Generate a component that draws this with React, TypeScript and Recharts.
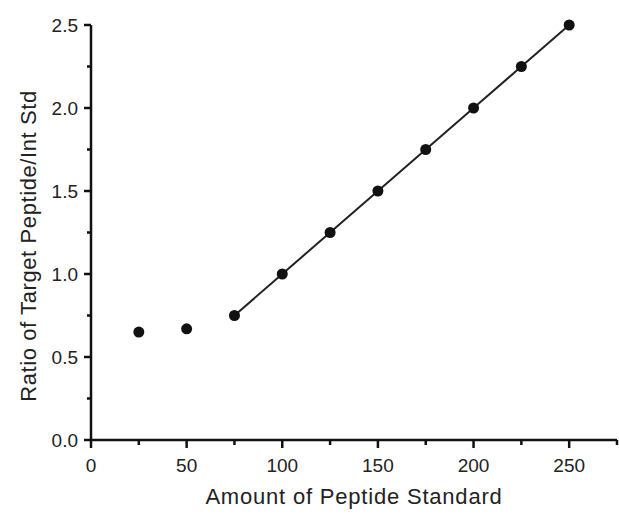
import { ComposedChart, Line, XAxis, YAxis } from 'recharts';

const amounts = [25, 50, 75, 100, 125, 150, 175, 200, 225, 250];
const ratios = [0.65, 0.67, 0.75, 1.0, 1.25, 1.5, 1.75, 2.0, 2.25, 2.5];
// linear fit only drawn over the linear range (75 and up)
const fitFrom = 75;

const xTicks = [0, 25, 50, 75, 100, 125, 150, 175, 200, 225, 250, 275];
const xLabeled = [0, 50, 100, 150, 200, 250];
const yTicks = [0, 0.25, 0.5, 0.75, 1, 1.25, 1.5, 1.75, 2, 2.25, 2.5];
const yLabeled = [0, 0.5, 1, 1.5, 2, 2.5];

const data = amounts.map((a, i) => ({
  amount: a,
  ratio: ratios[i],
  fit: a >= fitFrom ? ratios[i] : null,
}));

const FONT = '"Liberation Sans", Arial, sans-serif';
const INK = '#111';
const TEXT = '#222';

function XTick(props: any) {
  const { x, y, payload } = props;
  const major = xLabeled.includes(payload.value);
  return (
    <g>
      <line x1={x} y1={y} x2={x} y2={y + (major ? 8 : 5)} stroke={INK} strokeWidth={2.5} />
      {major && (
        <text x={x} y={y + 32} textAnchor="middle" fontSize={19} fill={TEXT} fontFamily={FONT}>
          {payload.value}
        </text>
      )}
    </g>
  );
}

function YTick(props: any) {
  const { x, y, payload } = props;
  const major = yLabeled.includes(payload.value);
  return (
    <g>
      <line x1={x} y1={y} x2={x - (major ? 7 : 4)} y2={y} stroke={INK} strokeWidth={2.5} />
      {major && (
        <text x={x - 13} y={y} dy="0.35em" textAnchor="end" fontSize={19} fill={TEXT} fontFamily={FONT}>
          {payload.value.toFixed(1)}
        </text>
      )}
    </g>
  );
}

export default function App() {
  return (
    <div style={{ position: 'absolute', left: 0, top: 0, width: 619, height: 515, background: '#fff' }}>
      <ComposedChart
        width={619}
        height={515}
        data={data}
        margin={{ top: 25, right: 2, bottom: 0, left: 0 }}
      >
        <XAxis
          dataKey="amount"
          type="number"
          domain={[0, 275]}
          ticks={xTicks}
          interval={0}
          height={75}
          tickSize={0}
          tickMargin={0}
          tickLine={false}
          tick={<XTick />}
          axisLine={{ stroke: INK, strokeWidth: 2.5 }}
          label={{
            value: 'Amount of Peptide Standard',
            position: 'insideBottom',
            offset: 11,
            fontSize: 22,
            fill: TEXT,
            fontFamily: FONT,
            letterSpacing: 0.8,
          }}
        />
        <YAxis
          type="number"
          domain={[0, 2.5]}
          ticks={yTicks}
          interval={0}
          width={91}
          tickSize={0}
          tickMargin={0}
          tickLine={false}
          tick={<YTick />}
          axisLine={{ stroke: INK, strokeWidth: 2.5 }}
          label={{
            content: () => (
              <text
                transform="translate(28,246) rotate(-90)"
                textAnchor="middle"
                dy="0.36em"
                fontSize={22}
                fill={TEXT}
                fontFamily={FONT}
                letterSpacing={0.6}
              >
                Ratio of Target Peptide/Int Std
              </text>
            ),
          }}
        />
        <Line
          dataKey="fit"
          stroke="#222"
          strokeWidth={2}
          dot={false}
          activeDot={false}
          connectNulls={false}
          isAnimationActive={false}
        />
        <Line
          dataKey="ratio"
          stroke="none"
          dot={{ r: 5.5, fill: INK, stroke: INK, strokeWidth: 0 }}
          activeDot={false}
          isAnimationActive={false}
        />
      </ComposedChart>
    </div>
  );
}
